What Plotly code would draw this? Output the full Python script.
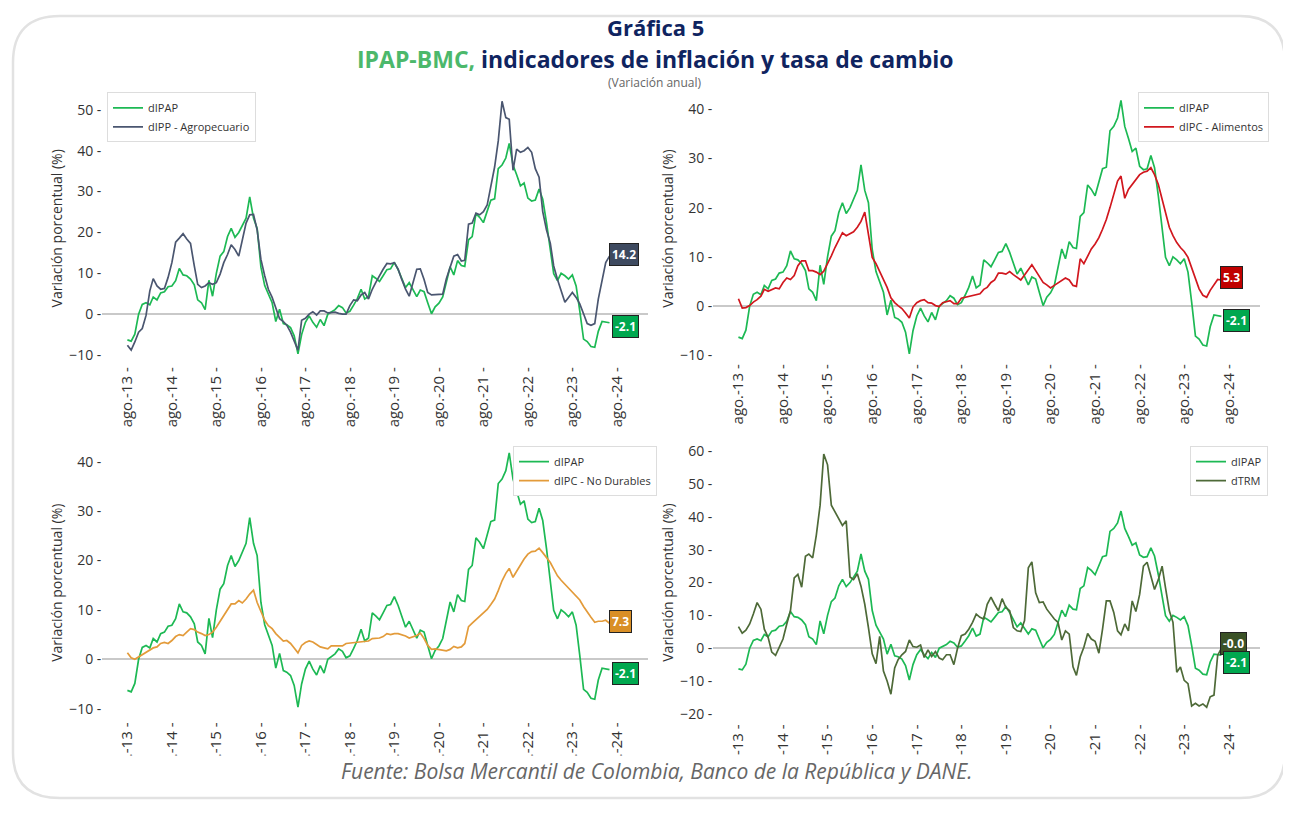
import pandas as pd
import plotly.graph_objects as go
from plotly.subplots import make_subplots

# Monthly annual variation (%), ago-13 .. jun-24
start_month = '2013-08-01'

dipap = [-6.3, -6.6, -4.9, 0.0, 2.4, 2.8, 2.3, 4.2, 3.5, 5.2, 5.5, 6.7, 6.9, 8.2, 11.2, 9.6, 9.4, 8.6, 7.2, 3.5,
         2.8, 1.1, 8.3, 4.4, 10.0, 14.2, 15.3, 19.0, 21.0, 18.8, 20.0, 21.8, 23.5, 28.7, 23.5, 21.0, 11.5, 7.0, 5.0, 2.8,
         -1.8, 1.2, -2.3, -2.6, -3.3, -5.3, -9.7, -5.0, -2.0, -0.4, -2.0, -3.2, -1.3, -2.8, 0.0, 0.6, 1.1, 2.1, 1.6, 0.3,
         0.7, 2.2, 3.8, 6.1, 3.7, 4.3, 9.4, 8.8, 8.0, 9.4, 10.9, 11.1, 12.7, 10.9, 8.9, 6.5, 7.7, 5.9, 4.3, 5.9,
         5.5, 2.8, 0.1, 1.8, 2.7, 4.2, 7.9, 11.6, 9.6, 13.1, 11.9, 11.7, 18.2, 19.0, 24.6, 23.7, 22.4, 25.4, 27.9, 28.2,
         35.6, 36.5, 38.2, 41.8, 36.5, 34.1, 31.4, 32.1, 28.4, 27.7, 27.9, 30.6, 28.1, 22.4, 16.3, 9.9, 8.2, 10.0, 9.4, 8.6,
         9.6, 6.9, 0.8, -6.1, -6.7, -7.9, -8.1, -4.2, -1.8, -2.0, -2.1]

dipp_agro = [-7.6, -8.8, -6.8, -4.4, -3.5, -0.3, 5.7, 8.7, 6.9, 6.1, 6.3, 9.0, 12.6, 17.6, 18.6, 19.7, 18.4, 17.3, 11.8, 7.3,
             6.5, 6.9, 7.7, 7.3, 7.7, 9.8, 12.6, 14.6, 17.0, 15.8, 14.2, 18.2, 22.3, 24.3, 24.4, 20.6, 13.4, 9.4, 6.1, 4.1,
             1.3, -1.1, -1.8, -2.7, -4.4, -6.8, -8.8, -1.5, -1.0, 0.0, 0.6, -0.2, 0.8, 0.8, 0.3, 0.4, 0.5, 0.2, 0.0, 0.0,
             2.1, 3.5, 3.3, 4.7, 5.3, 3.7, 6.1, 7.7, 9.5, 11.0, 12.4, 12.3, 12.6, 11.0, 8.5, 6.1, 4.4, 7.7, 11.0, 11.1,
             8.5, 5.3, 4.7, 4.8, 4.9, 4.9, 8.7, 11.4, 14.2, 14.6, 13.0, 13.2, 22.0, 22.3, 24.7, 24.3, 25.1, 26.7, 31.1, 36.0,
             42.4, 52.1, 48.1, 47.7, 35.2, 40.4, 39.6, 40.0, 40.8, 39.6, 35.6, 33.5, 25.1, 20.6, 17.4, 11.8, 8.5, 5.7, 2.9, 4.1,
             5.3, 4.1, 2.5, 0.1, -2.3, -2.7, -2.3, 3.7, 8.5, 12.6, 14.2]

dipc_alimentos = [1.5, -0.4, -0.3, 0.1, 0.8, 1.3, 2.0, 3.4, 3.0, 3.3, 3.7, 3.5, 4.8, 5.7, 5.4, 6.2, 8.2, 9.2, 9.2, 7.2,
                  7.2, 6.9, 6.4, 7.1, 8.6, 10.2, 11.9, 13.5, 14.9, 14.3, 14.7, 15.1, 16.0, 17.2, 19.1, 14.9, 9.9, 8.6, 7.1, 5.5,
                  3.8, 1.7, 0.7, 0.1, -0.5, -1.4, -2.4, -0.2, 0.7, 1.1, 1.3, 0.7, 0.6, 0.1, -0.1, 0.7, 0.9, 1.1, 0.5, 0.5,
                  1.6, 1.8, 2.0, 2.2, 2.4, 2.5, 3.4, 3.8, 4.8, 5.3, 6.7, 6.7, 6.5, 7.0, 6.4, 5.9, 5.3, 6.3, 7.3, 8.4,
                  7.2, 6.1, 4.8, 4.3, 3.7, 4.2, 4.7, 5.1, 5.7, 5.3, 4.2, 4.0, 9.6, 8.6, 10.2, 11.6, 12.6, 13.9, 15.6, 17.6,
                  20.0, 23.0, 25.4, 26.4, 21.9, 23.7, 24.7, 25.7, 26.7, 27.2, 27.4, 28.1, 26.7, 24.7, 21.7, 18.7, 16.0, 14.3, 12.9, 11.9,
                  11.1, 9.9, 7.9, 5.5, 3.5, 2.2, 1.8, 3.2, 4.4, 5.4, 5.3]

dipc_no_durables = [1.3, 0.3, 0.0, 0.5, 0.9, 1.5, 1.9, 2.3, 2.5, 3.2, 3.4, 3.2, 3.8, 4.6, 5.0, 4.8, 5.5, 6.2, 6.0, 5.5,
                    5.2, 4.8, 5.0, 5.5, 6.5, 7.7, 8.9, 10.0, 11.2, 11.2, 11.9, 11.4, 12.2, 13.2, 14.0, 11.5, 9.5, 7.9, 6.8, 6.2,
                    5.2, 4.5, 3.7, 3.8, 3.2, 2.3, 1.3, 2.8, 3.4, 3.7, 3.5, 3.0, 2.5, 2.3, 2.1, 2.7, 2.7, 2.8, 2.7, 3.2,
                    3.3, 3.4, 3.5, 3.5, 3.6, 3.7, 4.2, 4.2, 4.3, 4.6, 5.2, 5.0, 5.2, 5.2, 5.0, 4.7, 4.3, 4.6, 4.8, 5.3,
                    4.2, 2.8, 2.0, 2.1, 2.0, 1.8, 1.7, 2.0, 2.6, 2.3, 2.5, 3.2, 6.6, 7.3, 8.0, 8.7, 9.2, 10.1, 11.1, 12.2,
                    13.9, 15.9, 17.4, 18.4, 16.6, 17.9, 19.1, 20.3, 21.3, 21.8, 21.9, 22.5, 21.6, 20.6, 19.6, 18.3, 16.9, 16.0, 15.2, 14.4,
                    13.6, 12.9, 12.0, 10.7, 9.5, 8.5, 7.5, 7.7, 7.7, 7.9, 7.3]

dtrm = [6.6, 4.6, 5.5, 7.4, 10.4, 13.9, 11.9, 5.8, 3.3, -1.2, -2.2, 0.3, 2.8, 7.4, 11.4, 21.4, 22.5, 18.6, 28.0, 28.7,
        27.5, 34.5, 43.6, 59.2, 55.9, 43.6, 41.6, 39.6, 37.4, 38.8, 21.7, 20.9, 22.7, 18.9, 13.4, 6.3, -1.7, -4.7, 3.6, -7.0,
        -10.0, -14.0, -6.0, -3.5, -2.0, -1.0, 2.5, 0.5, 0.3, 1.0, -2.8, -0.5, -2.5, -1.0, -3.0, -3.5, -2.0, -2.0, -5.0, 0.0,
        3.8, 4.3, 5.8, 7.9, 10.4, 9.4, 8.9, 13.4, 15.6, 13.4, 11.4, 15.1, 12.4, 11.4, 6.3, 5.3, 5.1, 8.4, 24.5, 26.3,
        16.9, 13.9, 14.1, 11.9, 10.4, 8.9, 7.9, 2.5, 5.3, 4.3, -5.7, -8.3, -2.7, 0.3, 4.5, 2.8, 2.1, -1.5, 5.8, 14.4,
        14.4, 10.9, 5.3, 4.1, 7.4, 5.3, 14.4, 11.2, 16.4, 25.0, 26.2, 21.5, 17.9, 20.9, 25.0, 18.4, 11.4, 7.9, -7.3, -5.7,
        -9.8, -10.8, -17.6, -16.8, -17.6, -17.0, -18.0, -14.8, -14.3, -2.2, 0.0]

tick_labels = ['ago.-13', 'ago.-14', 'ago.-15', 'ago.-16', 'ago.-17', 'ago.-18',
               'ago.-19', 'ago.-20', 'ago.-21', 'ago.-22', 'ago.-23', 'ago.-24']

last_labels = {'dIPAP': '-2.1', 'dIPP': '14.2', 'alimentos': '5.3', 'no_durables': '7.3', 'dTRM': '-0.0'}

# the page adds an 8px body margin, so the figure is drawn 8px smaller and all
# pixel positions below are page pixels shifted back by OFF
OFF = 8
W, H = 1291 - OFF, 814 - OFF
FONT = 'Open Sans'
NAVY = '#0f2460'
GREEN = '#1db954'
GREEN_BOX = '#00a84f'

dates = pd.date_range(start_month, periods=len(dipap), freq='MS')
tick_dates = pd.date_range('2013-08-01', periods=len(tick_labels), freq='12MS')
x_range = [pd.Timestamp('2013-01-07'), pd.Timestamp('2025-04-13')]


def fx(x):
    return (x - OFF) / W


def fy(y):
    return 1 - (y - OFF) / H


fig = make_subplots(rows=2, cols=2)

panels = [
    # (row, col, second series, name, color, box color, yrange, ydomain px, legend, key)
    (1, 1, dipp_agro, 'dIPP - Agropecuario', '#4a5670', '#3e4a60', [-12, 54], (91.2, 363.3), 'legend', 'dIPP'),
    (1, 2, dipc_alimentos, 'dIPC - Alimentos', '#d1171e', '#c00000', [-11, 42.5], (94.6, 360.3), 'legend2', 'alimentos'),
    (2, 1, dipc_no_durables, 'dIPC - No Durables', '#e39b3a', '#d98f26', [-12, 43], (447.8, 721.7), 'legend3', 'no_durables'),
    (2, 2, dtrm, 'dTRM', '#4e6a38', '#3b5227', [-22, 62], (445.6, 723.6), 'legend4', 'dTRM'),
]

x_px = {1: (102.3, 648.0), 2: (713.3, 1260.0)}

for i, (row, col, series, name, color, box, yr, ydom, leg, key) in enumerate(panels):
    fig.add_trace(go.Scatter(x=dates, y=dipap, mode='lines', name='dIPAP',
                             line=dict(color=GREEN, width=1.7), legend=leg), row=row, col=col)
    fig.add_trace(go.Scatter(x=dates, y=series, mode='lines', name=name,
                             line=dict(color=color, width=1.7), legend=leg), row=row, col=col)

    fig.update_xaxes(range=x_range, domain=[fx(x_px[col][0]), fx(x_px[col][1])], tickvals=tick_dates,
                     ticktext=[t + ' -' for t in tick_labels], tickangle=-90,
                     showgrid=False, zeroline=False, showline=False, ticks='',
                     tickfont=dict(family=FONT, size=15, color='#333333'), row=row, col=col)
    fig.update_yaxes(range=yr, domain=[fy(ydom[1]), fy(ydom[0])], dtick=10, ticksuffix=' -',
                     showgrid=False, zeroline=True, zerolinecolor='#c9c9c9', zerolinewidth=2,
                     showline=False, ticks='',
                     tickfont=dict(family=FONT, size=14, color='#333333'),
                     title=dict(text='Variación porcentual (%)', standoff=3,
                                font=dict(family=FONT, size=14, color='#333333')),
                     row=row, col=col)

    xref = 'x' if i == 0 else 'x%d' % (i + 1)
    yref = 'y' if i == 0 else 'y%d' % (i + 1)
    shift_main, shift_ipap = 2, -4
    if key == 'dTRM':
        shift_main, shift_ipap = 5, -7
    fig.add_annotation(x=dates[-1], y=series[-1], xref=xref, yref=yref, xanchor='left', yanchor='middle',
                       xshift=-1, yshift=shift_main, text='<b>%s</b>' % last_labels[key], showarrow=False,
                       font=dict(family=FONT, size=12, color='white'),
                       bgcolor=box, bordercolor='#222222', borderwidth=1, borderpad=2)
    fig.add_annotation(x=dates[-1], y=dipap[-1], xref=xref, yref=yref, xanchor='left', yanchor='middle',
                       xshift=2, yshift=shift_ipap, text='<b>%s</b>' % last_labels['dIPAP'], showarrow=False,
                       font=dict(family=FONT, size=12, color='white'),
                       bgcolor=GREEN_BOX, bordercolor='#222222', borderwidth=1, borderpad=2)

legend_style = dict(bgcolor='white', bordercolor='#dddddd', borderwidth=1, xanchor='left', yanchor='top',
                    font=dict(family=FONT, size=11, color='#333333'), itemwidth=30, tracegroupgap=0)

fig.update_layout(
    width=W, height=H,
    margin=dict(l=0, r=0, t=0, b=0),
    paper_bgcolor='white',
    plot_bgcolor='rgba(0,0,0,0)',
    font=dict(family=FONT, color='#333333'),
    legend=dict(x=fx(107), y=fy(90), **legend_style),
    legend2=dict(x=fx(1138), y=fy(90), **legend_style),
    legend3=dict(x=fx(513), y=fy(447), **legend_style),
    legend4=dict(x=fx(1190), y=fy(447), **legend_style),
)

# cover for the clipped tick labels at the bottom, then the card outline
fig.add_shape(type='rect', xref='paper', yref='paper', x0=fx(40), x1=fx(1280), y0=fy(800), y1=fy(759),
              fillcolor='white', line=dict(width=0), layer='above')
fig.add_shape(type='path', xref='paper', yref='paper', layer='above',
              path='M {a},{t} L {b},{t} Q {r},{t} {r},{u} L {r},{v} Q {r},{btm} {b},{btm} '
                   'L {a},{btm} Q {l},{btm} {l},{v} L {l},{u} Q {l},{t} {a},{t} Z'.format(
                       l=fx(13), r=fx(1285), t=fy(13), btm=fy(802),
                       a=fx(60), b=fx(1240), u=fy(60), v=fy(756)),
              line=dict(color='#e2e2e2', width=2.5))

fig.add_annotation(x=fx(655), y=fy(24), xref='paper', yref='paper', showarrow=False, yanchor='middle',
                   text='<b>Gráfica 5</b>', font=dict(family=FONT, size=22, color=NAVY))
fig.add_annotation(x=fx(655), y=fy(56), xref='paper', yref='paper', showarrow=False, yanchor='middle',
                   text="<b><span style='color:#4cb86b'>IPAP-BMC,</span> indicadores de inflación y tasa de cambio</b>",
                   font=dict(family=FONT, size=23, color=NAVY))
fig.add_annotation(x=fx(655), y=fy(80), xref='paper', yref='paper', showarrow=False, yanchor='middle',
                   text='(Variación anual)', font=dict(family=FONT, size=12, color='#666666'))
fig.add_annotation(x=fx(656), y=fy(775), xref='paper', yref='paper', showarrow=False, yanchor='middle',
                   text='<i>Fuente: Bolsa Mercantil de Colombia, Banco de la República y DANE.</i>',
                   font=dict(family=FONT, size=21, color='#666666'))

fig.write_html('out.html')
